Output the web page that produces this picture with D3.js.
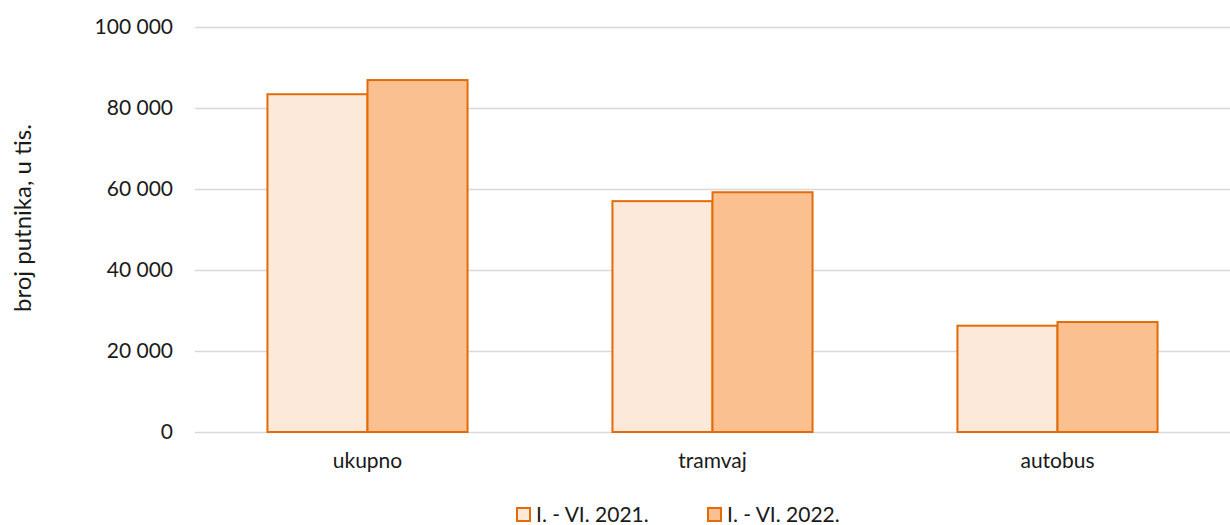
<!DOCTYPE html>
<html>
<head>
<meta charset="utf-8">
<script src="https://cdn.jsdelivr.net/npm/d3@7"></script>
<style>
  body { margin: 0; background: #fff; }
  text { font-family: Lato, "Open Sans", sans-serif; fill: #1a1a1a; }
</style>
</head>
<body>
<svg id="chart"></svg>
<script>
// data
var categories = ["ukupno", "tramvaj", "autobus"];
var seriesNames = ["I. - VI. 2021.", "I. - VI. 2022."];
var values2021 = [83400, 57000, 26250];
var values2022 = [86900, 59200, 27150];
var yTicks = [0, 20000, 40000, 60000, 80000, 100000];

var width = 1230, height = 525;
var margin = { top: 27, right: 0, bottom: 93, left: 195 };
var fills = ["#fde9d9", "#fac090"];
var strokeCol = "#e36c09";
var fontSize = "21px";

var svg = d3.select("svg#chart").attr("width", width).attr("height", height);

var x = d3.scaleBand()
  .domain(categories)
  .range([margin.left, width - margin.right])
  .paddingInner(0.42)
  .paddingOuter(0.21);

var xSub = d3.scaleBand()
  .domain(seriesNames)
  .range([0, x.bandwidth()]);

var y = d3.scaleLinear()
  .domain([0, 100000])
  .range([height - margin.bottom, margin.top]);

var fmt = function (d) {
  return d3.format(",")(d).replace(/,/g, " ");
};

// gridlines + y labels
var yAxis = d3.axisLeft(y)
  .tickValues(yTicks)
  .tickSize(-(width - margin.left - margin.right))
  .tickPadding(22)
  .tickFormat(fmt);

var gy = svg.append("g")
  .attr("transform", "translate(" + margin.left + ",0)")
  .call(yAxis);
gy.select(".domain").remove();
gy.selectAll(".tick line").attr("stroke", "#d9d9d9").attr("stroke-width", 1.3);
gy.selectAll(".tick text").style("font-size", fontSize);

// bars
var rows = categories.map(function (c, i) {
  return { cat: c, vals: [values2021[i], values2022[i]] };
});

var groups = svg.selectAll(".grp")
  .data(rows)
  .enter()
  .append("g")
  .attr("class", "grp")
  .attr("transform", function (d) { return "translate(" + x(d.cat) + ",0)"; });

groups.selectAll("rect")
  .data(function (d) {
    return d.vals.map(function (v, k) { return { s: seriesNames[k], v: v, k: k }; });
  })
  .enter()
  .append("rect")
  .attr("x", function (d) { return xSub(d.s); })
  .attr("y", function (d) { return y(d.v); })
  .attr("width", xSub.bandwidth())
  .attr("height", function (d) { return y(0) - y(d.v); })
  .attr("fill", function (d) { return fills[d.k]; })
  .attr("stroke", strokeCol)
  .attr("stroke-width", 2);

// x labels
var xAxis = d3.axisBottom(x).tickSize(0).tickPadding(21);
var gx = svg.append("g")
  .attr("transform", "translate(0," + (height - margin.bottom) + ")")
  .call(xAxis);
gx.select(".domain").remove();
gx.selectAll(".tick text").style("font-size", fontSize);

// y title
svg.append("text")
  .attr("transform", "translate(31,218) rotate(-90)")
  .attr("text-anchor", "middle")
  .style("font-size", "24px")
  .text("broj putnika, u tis.");

// legend
var legX = [517, 708];
var leg = svg.selectAll(".leg")
  .data(seriesNames)
  .enter()
  .append("g")
  .attr("class", "leg")
  .attr("transform", function (d, i) { return "translate(" + legX[i] + ",508)"; });

leg.append("rect")
  .attr("width", 13)
  .attr("height", 13)
  .attr("fill", function (d, i) { return fills[i]; })
  .attr("stroke", strokeCol)
  .attr("stroke-width", 2);

leg.append("text")
  .attr("x", 19)
  .attr("y", 14)
  .style("font-size", fontSize)
  .text(function (d) { return d; });
</script>
</body>
</html>
